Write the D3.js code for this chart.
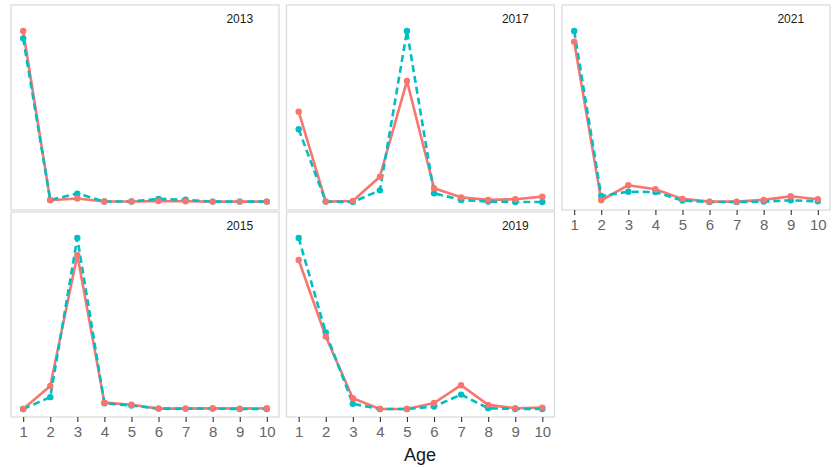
<!DOCTYPE html>
<html>
<head>
<meta charset="utf-8">
<script src="https://d3js.org/d3.v7.min.js"></script>
<style>
  body { margin: 0; background: #fff; }
  svg { font-family: "Liberation Sans", Arial, sans-serif; }
</style>
</head>
<body>
<svg id="chart" width="837" height="467"></svg>
<script>
// ages on the x axis
var ages = [1, 2, 3, 4, 5, 6, 7, 8, 9, 10];
// facet order (filled by column, 2 rows)
var years = ["2013", "2015", "2017", "2019", "2021"];

// solid red series
var red2013 = [1.00, 0.010, 0.020, 0.003, 0.003, 0.005, 0.004, 0.002, 0.002, 0.002];
var red2015 = [0.00, 0.134, 0.900, 0.037, 0.025, 0.002, 0.002, 0.004, 0.002, 0.004];
var red2017 = [0.528, 0.002, 0.006, 0.148, 0.708, 0.080, 0.027, 0.012, 0.016, 0.031];
var red2019 = [0.871, 0.424, 0.063, 0.000, 0.000, 0.035, 0.139, 0.024, 0.004, 0.008];
var red2021 = [0.937, 0.010, 0.098, 0.074, 0.018, 0.002, 0.002, 0.012, 0.033, 0.016];

// dashed teal series
var teal2013 = [0.957, 0.012, 0.049, 0.003, 0.003, 0.018, 0.013, 0.002, 0.002, 0.002];
var teal2015 = [0.00, 0.069, 1.000, 0.033, 0.020, 0.002, 0.002, 0.002, 0.000, 0.000];
var teal2017 = [0.425, 0.002, 0.000, 0.068, 1.000, 0.051, 0.012, 0.002, 0.000, 0.000];
var teal2019 = [1.000, 0.447, 0.030, 0.000, 0.000, 0.014, 0.084, 0.004, 0.000, 0.000];
var teal2021 = [1.000, 0.035, 0.060, 0.058, 0.008, 0.000, 0.000, 0.002, 0.010, 0.004];

var redByYear = {"2013": red2013, "2015": red2015, "2017": red2017, "2019": red2019, "2021": red2021};
var tealByYear = {"2013": teal2013, "2015": teal2015, "2017": teal2017, "2019": teal2019, "2021": teal2021};

var panelW = 268, panelH = 205;
var colLeft = [11, 286.5, 562],
    rowTop = [5, 212];
var red = "#F8766D", teal = "#00BFC4";

var x = d3.scaleLinear().domain([0.55, 10.45]).range([0, panelW]);
var y = d3.scaleLinear().domain([-0.047, 1.152]).range([panelH, 0]);

var svg = d3.select("#chart");

var line = d3.line()
    .x(function(d, i) { return x(ages[i]); })
    .y(function(d) { return y(d); });

years.forEach(function(yr, k) {
  var col = Math.floor(k / 2), row = k % 2;
  var g = svg.append("g")
      .attr("transform", "translate(" + colLeft[col] + "," + rowTop[row] + ")");

  g.append("rect")
      .attr("width", panelW).attr("height", panelH)
      .attr("fill", "#fff")
      .attr("stroke", "#d9d9d9").attr("stroke-width", 1.2);

  // year label
  g.append("text")
      .attr("x", x(9)).attr("y", y(1.07))
      .attr("text-anchor", "middle")
      .attr("dominant-baseline", "central")
      .attr("font-size", 12).attr("fill", "#1a1a1a")
      .text(yr);

  var r = redByYear[yr], t = tealByYear[yr];

  g.append("path").datum(r)
      .attr("d", line).attr("fill", "none")
      .attr("stroke", red).attr("stroke-width", 2.6)
      .attr("stroke-linejoin", "round");
  g.append("path").datum(t)
      .attr("d", line).attr("fill", "none")
      .attr("stroke", teal).attr("stroke-width", 2.6)
      .attr("stroke-dasharray", "7,4");

  g.selectAll(".pt-teal").data(t).enter().append("circle")
      .attr("class", "pt-teal")
      .attr("cx", function(d, i) { return x(ages[i]); })
      .attr("cy", function(d) { return y(d); })
      .attr("r", 3.2).attr("fill", teal);
  g.selectAll(".pt-red").data(r).enter().append("circle")
      .attr("class", "pt-red")
      .attr("cx", function(d, i) { return x(ages[i]); })
      .attr("cy", function(d) { return y(d); })
      .attr("r", 3.2).attr("fill", red);

  // x axis only under bottom panel of each column
  if (row === 1 || col === 2) {
    var ax = g.append("g")
        .attr("transform", "translate(0," + panelH + ")")
        .call(d3.axisBottom(x).tickValues(ages).tickSize(5).tickPadding(4));
    ax.select(".domain").remove();
    ax.selectAll(".tick line").attr("stroke", "#333").attr("stroke-width", 1.1);
    ax.selectAll(".tick text").attr("fill", "#666").attr("font-size", 15)
        .attr("font-family", "Liberation Sans, Arial, sans-serif");
  }
});

svg.append("text")
    .attr("x", 420).attr("y", 461)
    .attr("text-anchor", "middle")
    .attr("font-size", 18).attr("fill", "#1a1a1a")
    .text("Age");
</script>
</body>
</html>
